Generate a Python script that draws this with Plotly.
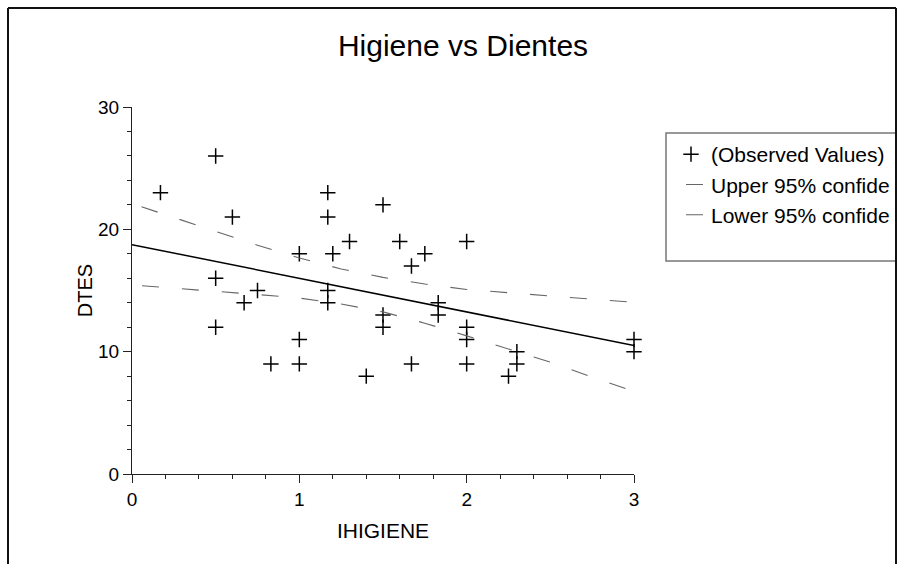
import plotly.graph_objects as go

# Observed values: hygiene index vs number of teeth
ihigiene = [0.17, 0.5, 0.5, 0.5, 0.6, 0.67, 0.75, 0.83, 1.0, 1.0, 1.0,
            1.17, 1.17, 1.17, 1.17, 1.2, 1.3, 1.4, 1.5, 1.5, 1.5, 1.6,
            1.67, 1.67, 1.75, 1.83, 1.83, 2.0, 2.0, 2.0, 2.0, 2.25, 2.3,
            2.3, 3.0, 3.0]
dtes = [23, 26, 16, 12, 21, 14, 15, 9, 18, 11, 9,
        23, 21, 15, 14, 18, 19, 8, 22, 13, 12, 19,
        17, 9, 18, 14, 13, 19, 12, 11, 9, 8, 10,
        9, 11, 10]

# Fitted regression line
fit_x = [0, 3]
fit_y = [18.75, 10.5]

# 95% confidence limits
band_x = [0, 0.25, 0.5, 0.75, 1.0, 1.25, 1.5, 1.75, 2.0, 2.25, 2.5, 2.75, 3.0]
upper = [22.1, 20.95, 19.8, 18.7, 17.66, 16.76, 16.07, 15.53, 15.08, 14.82,
         14.57, 14.3, 14.03]
lower = [15.45, 15.2, 14.95, 14.67, 14.38, 13.9, 13.25, 12.33, 11.29, 10.23,
         9.14, 7.91, 6.76]

# Legend labels as they appear inside the frame
legend_names = ["(Observed Values)", "Upper 95% confide", "Lower 95% confide"]

FONT = "Liberation Sans, Arial, sans-serif"
W, H = 897, 564
L, R, T, B = 132, W - 634, 107, H - 474
PW, PH = W - L - R, H - T - B


def px(x):
    return (x - L) / PW


def py(y):
    return (H - B - y) / PH


band_line = dict(color="#666", width=1.1, dash="0px,10px,17px,13px")

fig = go.Figure()
fig.add_trace(go.Scatter(
    x=ihigiene, y=dtes, mode="markers", name=legend_names[0],
    marker=dict(symbol="cross-thin", size=11, color="black",
                line=dict(color="black", width=1.5)),
    cliponaxis=False,
))
fig.add_trace(go.Scatter(
    x=band_x, y=upper, mode="lines", name=legend_names[1], line=band_line,
))
fig.add_trace(go.Scatter(
    x=band_x, y=lower, mode="lines", name=legend_names[2], line=band_line,
))
fig.add_trace(go.Scatter(
    x=fit_x, y=fit_y, mode="lines", showlegend=False,
    line=dict(color="black", width=1.5),
))

axis_common = dict(
    showline=True, linecolor="#222", linewidth=1, showgrid=False,
    zeroline=False, ticks="outside", ticklen=8, tickcolor="#222",
    tickfont=dict(family=FONT, size=19, color="black"),
)
fig.update_xaxes(range=[0, 3], dtick=1, tick0=0,
                 minor=dict(dtick=0.2, ticks="outside", ticklen=4,
                            tickcolor="#222", showgrid=False),
                 title=dict(text="IHIGIENE", standoff=14,
                            font=dict(family=FONT, size=21, color="black")),
                 **axis_common)
fig.update_yaxes(range=[0, 30], dtick=10, tick0=0,
                 minor=dict(dtick=2, ticks="outside", ticklen=4,
                            tickcolor="#222", showgrid=False),
                 title=dict(text="DTES", standoff=0,
                            font=dict(family=FONT, size=20, color="black")),
                 **axis_common)

shapes = [
    # legend frame
    dict(type="rect", xref="paper", yref="paper",
         x0=px(666), x1=px(930), y0=py(261), y1=py(133),
         line=dict(color="#777", width=1.5), fillcolor="rgba(0,0,0,0)"),
    # outer frame (top, left, right)
    dict(type="line", xref="paper", yref="paper",
         x0=px(8), x1=px(896), y0=py(8), y1=py(8),
         line=dict(color="#111", width=2)),
    dict(type="line", xref="paper", yref="paper",
         x0=px(8), x1=px(8), y0=py(8), y1=py(H + 5),
         line=dict(color="#111", width=2)),
    dict(type="line", xref="paper", yref="paper",
         x0=px(896), x1=px(896), y0=py(8), y1=py(H + 5),
         line=dict(color="#111", width=2)),
]

fig.update_layout(
    width=W, height=H,
    margin=dict(l=L, r=R, t=T, b=B, autoexpand=False),
    paper_bgcolor="white", plot_bgcolor="white",
    title=dict(text="Higiene vs Dientes", xref="container", x=463 / W,
               xanchor="center", yref="container", y=1 - 45 / H,
               yanchor="middle",
               font=dict(family=FONT, size=30, color="black")),
    legend=dict(x=px(671), y=py(134), xanchor="left", yanchor="top",
                bgcolor="rgba(0,0,0,0)", borderwidth=0,
                font=dict(family=FONT, size=21, color="black"),
                tracegroupgap=0),
    shapes=shapes,
    showlegend=True,
)

fig.write_html("out.html")
